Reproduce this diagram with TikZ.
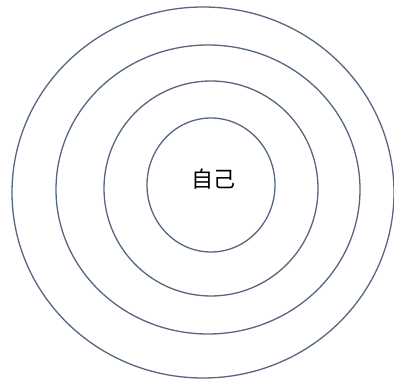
\documentclass[tikz,border=0pt]{standalone}
\usepackage{fontspec}
\newfontfamily\cjk{Noto Sans CJK SC}
\definecolor{ringcol}{HTML}{56677F}
\begin{document}
\begin{tikzpicture}[x=1pt,y=-1pt,
  ring/.style={draw=ringcol,line width=1.3pt}]
\useasboundingbox (0,0) rectangle (394,382);
\fill[white] (0,0) rectangle (394,382);
\draw[ring] (203,192.5) ellipse [x radius=191,y radius=185.5];
\draw[ring] (208,189.5) ellipse [x radius=152,y radius=144.5];
\draw[ring] (211,188.5) ellipse [x radius=107,y radius=107.5];
\draw[ring] (211,185) ellipse [x radius=64,y radius=67];
\node (self) at (213,179) {\cjk\fontsize{22pt}{24pt}\selectfont 自己};
\end{tikzpicture}
\end{document}
